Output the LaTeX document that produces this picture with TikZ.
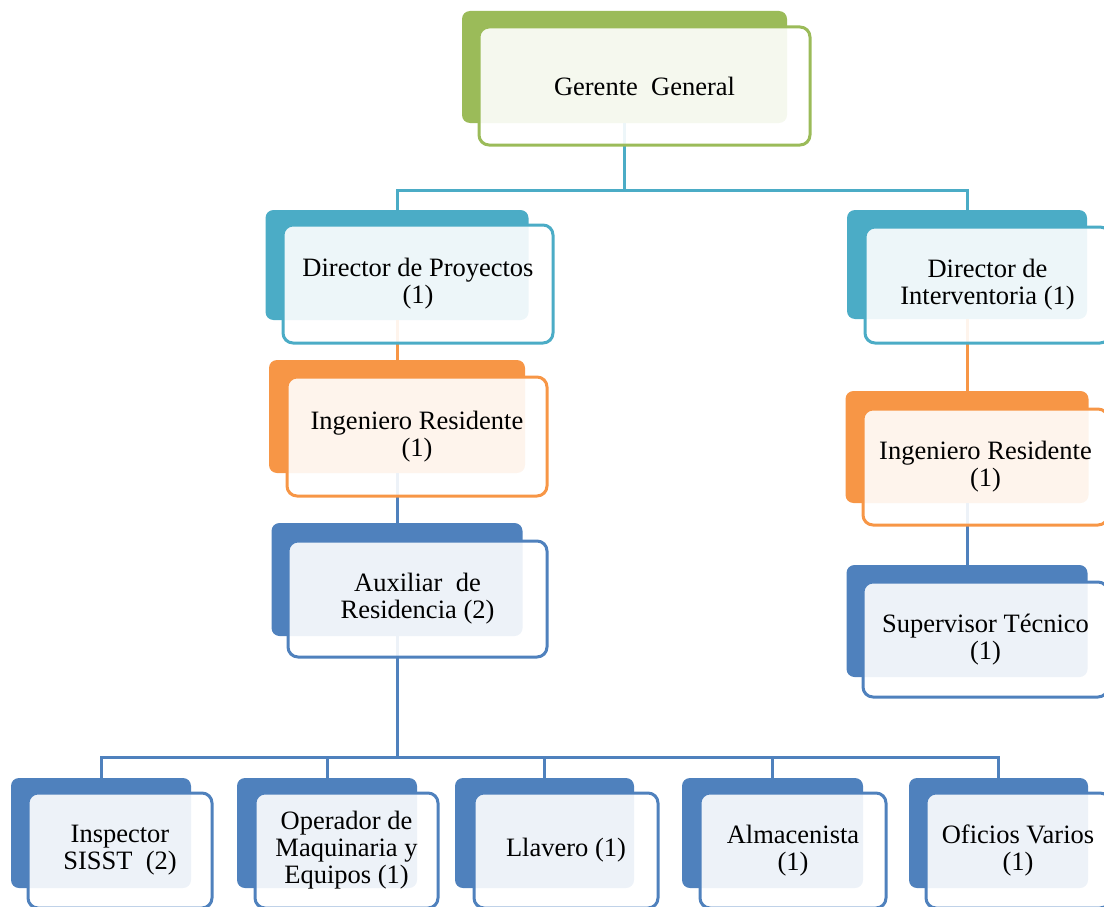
\documentclass[tikz,border=0pt]{standalone}
\usepackage{fontspec}
\setmainfont{Liberation Serif}
\definecolor{cGreen}{HTML}{9BBB59}
\definecolor{cTeal}{HTML}{4BACC6}
\definecolor{cOrange}{HTML}{F79646}
\definecolor{cBlue}{HTML}{4F81BD}
\tikzset{
  backbox/.style={draw=none, fill=#1, rounded corners=8pt, inner sep=0pt, outer sep=0pt},
  frontbox/.style={draw=#1, line width=3pt, fill=white, fill opacity=0.9, text opacity=1,
    rounded corners=10pt, align=center, inner sep=0pt, font=\fontsize{26.5}{27}\selectfont},
  link/.style={draw=#1, line width=3pt},
}
\begin{document}
\begin{tikzpicture}[x=1pt,y=-1pt]
\useasboundingbox (0,0) rectangle (1104,907);
\clip (0,0) rectangle (1104,907);
% ---------- back boxes ----------
\node[backbox=cGreen, minimum width=325pt, minimum height=112pt] (bGG) at (624.5,67) {};
\node[backbox=cTeal, minimum width=263pt, minimum height=110pt] (bDP) at (397,265) {};
\node[backbox=cTeal, minimum width=240pt, minimum height=109pt] (bDI) at (967,264.5) {};
\node[backbox=cOrange, minimum width=256pt, minimum height=113pt] (bIRL) at (397,416.5) {};
\node[backbox=cOrange, minimum width=243pt, minimum height=112pt] (bIRR) at (967,447) {};
\node[backbox=cBlue, minimum width=251pt, minimum height=113pt] (bAUX) at (397,579.5) {};
\node[backbox=cBlue, minimum width=241pt, minimum height=112pt] (bSUP) at (967,621) {};
\node[backbox=cBlue, minimum width=180pt, minimum height=110pt] (bINS) at (101,833) {};
\node[backbox=cBlue, minimum width=180pt, minimum height=110pt] (bOPE) at (327,833) {};
\node[backbox=cBlue, minimum width=179pt, minimum height=110pt] (bLLA) at (544.5,833) {};
\node[backbox=cBlue, minimum width=181pt, minimum height=110pt] (bALM) at (772.5,833) {};
\node[backbox=cBlue, minimum width=179pt, minimum height=110pt] (bOFI) at (998.5,833) {};
% ---------- connectors ----------
\coordinate (busTop) at (624.5,190);
\coordinate (busBot) at (397,757);
\draw[link=cTeal] (bGG.south) -- (busTop) -| (bDP.north);
\draw[link=cTeal] (busTop) -| (bDI.north);
\draw[link=cOrange] (bDP.south) -- (bIRL.north);
\draw[link=cBlue] (bIRL.south) -- (bAUX.north);
\draw[link=cOrange] (bDI.south) -- (bIRR.north);
\draw[link=cBlue] (bIRR.south) -- (bSUP.north);
\draw[link=cBlue] (bAUX.south) -- (busBot);
\draw[link=cBlue] (busBot) -| (bINS.north);
\draw[link=cBlue] (busBot) -| (bOPE.north);
\draw[link=cBlue] (busBot) -| (bLLA.north);
\draw[link=cBlue] (busBot) -| (bALM.north);
\draw[link=cBlue] (busBot) -| (bOFI.north);
% ---------- front boxes ----------
\node[frontbox=cGreen, minimum width=331pt, minimum height=118pt] (GG) at (644.5,86) {Gerente\ \ General};
\node[frontbox=cTeal, minimum width=270pt, minimum height=118pt] (DP) at (418,284) {Director de Proyectos\\(1)};
\node[frontbox=cTeal, minimum width=245pt, minimum height=116pt] (DI) at (987.5,285) {Director de\\Interventoria (1)};
\node[frontbox=cOrange, minimum width=260pt, minimum height=119pt] (IRL) at (417,436.5) {Ingeniero Residente\\(1)};
\node[frontbox=cOrange, minimum width=245pt, minimum height=116pt] (IRR) at (985.5,467) {Ingeniero Residente\\(1)};
\node[frontbox=cBlue, minimum width=259pt, minimum height=116pt] (AUX) at (417.5,599) {Auxiliar\ \ de\\Residencia (2)};
\node[frontbox=cBlue, minimum width=245pt, minimum height=115pt] (SUP) at (985.5,639.5) {Supervisor Técnico\\(1)};
\node[frontbox=cBlue, minimum width=184pt, minimum height=115pt] (INS) at (120,850.5) {Inspector\\SISST\ \ (2)};
\node[frontbox=cBlue, minimum width=183pt, minimum height=115pt] (OPE) at (346.5,850.5) {Operador de\\Maquinaria y\\Equipos (1)};
\node[frontbox=cBlue, minimum width=184pt, minimum height=115pt] (LLA) at (566,850.5) {Llavero (1)};
\node[frontbox=cBlue, minimum width=186pt, minimum height=115pt] (ALM) at (793,850.5) {Almacenista\\(1)};
\node[frontbox=cBlue, minimum width=184pt, minimum height=115pt] (OFI) at (1018,850.5) {Oficios Varios\\(1)};
\end{tikzpicture}
\end{document}
